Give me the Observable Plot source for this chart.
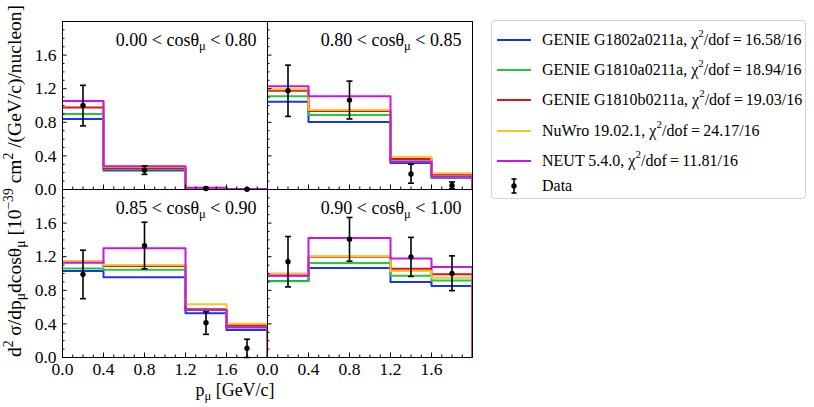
<!DOCTYPE html>
<html><head><meta charset="utf-8">
<script src="https://cdn.jsdelivr.net/npm/d3@7"></script>
<script src="https://cdn.jsdelivr.net/npm/@observablehq/plot@0.6"></script>
<style>
body{margin:0;background:#fff;font-family:"Liberation Serif",serif;}
#wrap{position:relative;width:814px;height:407px;overflow:hidden;}
#chart{position:absolute;left:0;top:0;}
#legend{position:absolute;left:491px;top:20px;width:315px;height:179px;border:1px solid #d4d4d4;border-radius:4px;box-sizing:border-box;font-size:16px;color:#000;background:#fff;}
.row{position:absolute;left:0;height:24px;display:flex;align-items:center;white-space:nowrap;}
.row svg{margin-left:4px;margin-right:10px;}
.row sup{font-size:11px;vertical-align:0;position:relative;top:-8px;line-height:0;}
</style></head>
<body><div id="wrap"><div id="chart"></div><div id="legend"></div></div>
<script>
// ---------- data ----------
const pEdges = [0, 0.4, 1.2, 1.6, 2.0];
const pCenters = [0.2, 0.8, 1.4, 1.8];
const cosLabels = ["0.00 < cosθμ < 0.80", "0.80 < cosθμ < 0.85", "0.85 < cosθμ < 0.90", "0.90 < cosθμ < 1.00"];
const panelCol = ["L", "R", "L", "R"];
const panelRow = ["T", "T", "B", "B"];

const models = ["GENIE G1802a0211a", "GENIE G1810a0211a", "GENIE G1810b0211a", "NuWro 19.02.1", "NEUT 5.4.0"];
const modelChi2 = ["16.58/16", "18.94/16", "19.03/16", "24.17/16", "11.81/16"];
const modelColors = ["#1838e8", "#22c83e", "#e01414", "#ffc22a", "#c814ee"];

// model predictions per cos bin (4 momentum bins each)
const genieG1802a = [[0.84, 0.225, 0.015, 0.004], [1.044, 0.804, 0.315, 0.14], [1.03, 0.954, 0.526, 0.328], [0.91, 1.066, 0.90, 0.85]];
const genieG1810a = [[0.90, 0.24, 0.017, 0.004], [1.11, 0.887, 0.335, 0.15], [1.06, 1.044, 0.573, 0.365], [0.909, 1.126, 0.973, 0.918]];
const genieG1810b = [[0.975, 0.252, 0.019, 0.005], [1.175, 0.934, 0.363, 0.18], [1.14, 1.09, 0.57, 0.384], [0.975, 1.20, 1.056, 0.99]];
const nuwro = [[1.05, 0.27, 0.02, 0.005], [1.194, 0.946, 0.39, 0.193], [1.15, 1.10, 0.633, 0.403], [1.0, 1.205, 1.03, 0.95]];
const neut = [[1.055, 0.276, 0.022, 0.006], [1.23, 1.11, 0.33, 0.154], [1.127, 1.30, 0.565, 0.356], [0.972, 1.423, 1.18, 1.076]];
const modelValues = [genieG1802a, genieG1810a, genieG1810b, nuwro, neut];

// measured data with error bar ends
const dataVal = [[1.0, 0.23, 0.012, 0.003], [1.175, 1.064, 0.185, 0.047], [0.99, 1.33, 0.414, 0.11], [1.14, 1.407, 1.198, 1.0]];
const dataLo = [[0.757, 0.18, 0.002, 0.0], [0.87, 0.84, 0.075, 0.01], [0.70, 1.056, 0.276, 0.0], [0.84, 1.147, 0.965, 0.796]];
const dataHi = [[1.24, 0.28, 0.022, 0.008], [1.48, 1.29, 0.30, 0.09], [1.277, 1.61, 0.544, 0.217], [1.44, 1.667, 1.43, 1.21]];

const yMajor = [0, 0.4, 0.8, 1.2, 1.6];
const yMinor = [0.1, 0.2, 0.3, 0.5, 0.6, 0.7, 0.9, 1.0, 1.1, 1.3, 1.4, 1.5, 1.7, 1.8, 1.9];
const xMajor = [0, 0.4, 0.8, 1.2, 1.6];
const xMinor = [0.1, 0.2, 0.3, 0.5, 0.6, 0.7, 0.9, 1.0, 1.1, 1.3, 1.4, 1.5, 1.7, 1.8, 1.9];

// ---------- tables ----------
const lineRows = [];
models.forEach((m, mi) => {
  modelValues[mi].forEach((vals, k) => {
    const base = {model: m, col: panelCol[k], row: panelRow[k], key: m + k};
    vals.forEach((v, i) => {
      lineRows.push({...base, x: pEdges[i], y: v});
      lineRows.push({...base, x: pEdges[i + 1], y: v});
    });
    lineRows.push({...base, x: pEdges[pEdges.length - 1], y: 0});
  });
});
const dataRows = [];
dataVal.forEach((vals, k) => vals.forEach((v, i) => dataRows.push({
  col: panelCol[k], row: panelRow[k], p: pCenters[i], v, lo: dataLo[k][i], hi: dataHi[k][i]
})));
const panelRows = cosLabels.map((t, k) => ({col: panelCol[k], row: panelRow[k], text: t}));

const capSymbol = {draw(ctx, size) { const h = Math.sqrt(size / Math.PI); ctx.moveTo(-h, 0); ctx.lineTo(h, 0); }};
const fmt = d3.format(".1f");

const svg = Plot.plot({
  width: 480, height: 407,
  marginLeft: 61, marginRight: 8, marginTop: 20, marginBottom: 49.5,
  fx: {domain: ["L", "R"], padding: 0, axis: null},
  fy: {domain: ["T", "B"], padding: 0, axis: null},
  x: {domain: [0, 2.0]},
  y: {domain: [0, 2.0]},
  color: {domain: models, range: modelColors},
  style: {fontFamily: "Liberation Serif", fontSize: "17.5px", background: "white", color: "black", overflow: "visible"},
  marks: [
    Plot.line(lineRows, {x: "x", y: "y", z: "key", stroke: "model", fx: "col", fy: "row", strokeWidth: 2, clip: true}),
    Plot.ruleX(dataRows, {x: "p", y1: "lo", y2: "hi", fx: "col", fy: "row", stroke: "black", strokeWidth: 1.6}),
    Plot.dot(dataRows, {x: "p", y: "lo", fx: "col", fy: "row", symbol: capSymbol, r: 3, stroke: "black", fill: "none", strokeWidth: 1.6}),
    Plot.dot(dataRows, {x: "p", y: "hi", fx: "col", fy: "row", symbol: capSymbol, r: 3, stroke: "black", fill: "none", strokeWidth: 1.6}),
    Plot.dot(dataRows, {x: "p", y: "v", fx: "col", fy: "row", r: 2.7, fill: "black", stroke: "none"}),
    Plot.text(panelRows, {fx: "col", fy: "row", text: "text", frameAnchor: "top-right", textAnchor: "end", lineAnchor: "middle", dx: -11, dy: 19, fontSize: 18}),
    Plot.axisY({ticks: yMinor, tickSize: -2.5, fill: "none", label: null, facetAnchor: null}),
    Plot.axisY({ticks: yMajor, tickSize: -4.5, fill: "none", label: null, facetAnchor: null}),
    Plot.axisX({ticks: xMinor, tickSize: -2.5, fill: "none", label: null, facetAnchor: null}),
    Plot.axisX({ticks: xMajor, tickSize: -4.5, fill: "none", label: null, facetAnchor: null}),
    Plot.axisY({ticks: yMajor, tickSize: 0, tickPadding: 6, tickFormat: fmt, label: null}),
    Plot.axisX({ticks: xMajor, tickSize: 0, tickPadding: 5.5, tickFormat: fmt, label: null}),
    Plot.frame({stroke: "black", strokeWidth: 1})
  ]
});
document.getElementById("chart").appendChild(svg);

// rich text helper (sub/superscripts as tspans)
function rich(textSel, parts, fs) {
  textSel.text("");
  let shift = 0;
  parts.forEach(([t, kind]) => {
    const target = kind === "sup" ? -fs * 0.42 : kind === "sub" ? fs * 0.22 : 0;
    const ts = textSel.append("tspan").text(t).attr("dy", target - shift);
    if (kind) ts.attr("font-size", fs * 0.7);
    shift = target;
  });
}
const s = d3.select(svg);
s.selectAll("text").filter(function () { return this.textContent.includes("cosθμ"); }).each(function () {
  const [a, b] = this.textContent.split("μ");
  rich(d3.select(this), [[a, null], ["μ", "sub"], [b, null]], 18);
});
// y label
const yl = s.append("text").attr("transform", "translate(21,181) rotate(-90)").attr("text-anchor", "middle")
  .attr("font-size", 19.5).attr("fill", "black").attr("font-family", "Liberation Serif");
rich(yl, [["d", null], ["2", "sup"], [" σ/dp", null], ["μ", "sub"], ["dcosθ", null], ["μ", "sub"], [" [10", null], ["−39", "sup"], [" cm", null], ["2", "sup"], [" /(GeV/c)/nucleon]", null]], 19.5);
// x label
const xl = s.append("text").attr("x", 235).attr("y", 396).attr("text-anchor", "middle")
  .attr("font-size", 18).attr("fill", "black").attr("font-family", "Liberation Serif");
rich(xl, [["p", null], ["μ", "sub"], [" [GeV/c]", null]], 18);

// legend
const leg = d3.select("#legend");
const rowCenters = [19, 49, 79, 110, 140, 165];
models.forEach((m, i) => {
  const r = leg.append("div").attr("class", "row").style("top", (rowCenters[i] - 12) + "px");
  const sw = r.append("svg").attr("width", 36).attr("height", 24);
  sw.append("line").attr("x1", 1).attr("x2", 35).attr("y1", 12).attr("y2", 12).attr("stroke", modelColors[i]).attr("stroke-width", 2);
  r.append("span").html(`${m}, χ<sup>2</sup>/dof\u2009=\u2009${modelChi2[i]}`);
});
{
  const r = leg.append("div").attr("class", "row").style("top", (rowCenters[5] - 12) + "px");
  const sw = r.append("svg").attr("width", 36).attr("height", 24);
  sw.append("line").attr("x1", 18).attr("x2", 18).attr("y1", 5).attr("y2", 19).attr("stroke", "black").attr("stroke-width", 1.6);
  sw.append("line").attr("x1", 15.5).attr("x2", 20.5).attr("y1", 5).attr("y2", 5).attr("stroke", "black").attr("stroke-width", 1.6);
  sw.append("line").attr("x1", 15.5).attr("x2", 20.5).attr("y1", 19).attr("y2", 19).attr("stroke", "black").attr("stroke-width", 1.6);
  sw.append("circle").attr("cx", 18).attr("cy", 12).attr("r", 2.7).attr("fill", "black");
  r.append("span").text("Data");
}
</script>
</body></html>
